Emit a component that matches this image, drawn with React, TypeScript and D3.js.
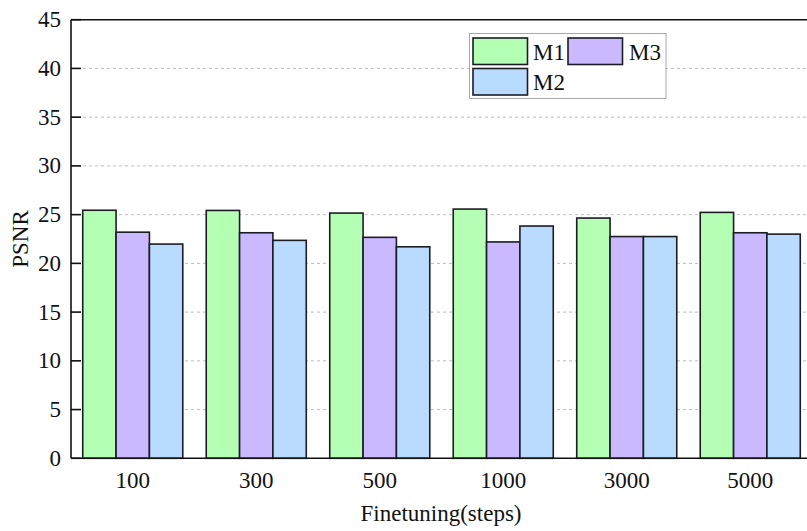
import React from "react";
import * as d3 from "d3";

const categories = ["100", "300", "500", "1000", "3000", "5000"];
const seriesNames = ["M1", "M3", "M2"];
const m1 = [25.45, 25.43, 25.16, 25.57, 24.65, 25.23];
const m3 = [23.2, 23.14, 22.67, 22.2, 22.75, 23.14];
const m2 = [21.98, 22.36, 21.7, 23.83, 22.75, 23.0];
const colors = ["#b4ffb4", "#cbb9ff", "#b8dbff"];
const yTicks = [0, 5, 10, 15, 20, 25, 30, 35, 40, 45];

const W = 807;
const H = 531;
const left = 71;
const top = 19.7;
const bottom = 458.3;
const right = 812;

export default function App() {
  const series = [m1, m3, m2];
  const x = d3
    .scaleBand<string>()
    .domain(categories)
    .range([left, right])
    .paddingInner(0.19)
    .paddingOuter(0.095);
  const inner = d3
    .scaleBand<string>()
    .domain(seriesNames)
    .range([0, x.bandwidth()]);
  const y = d3.scaleLinear().domain([0, 45]).range([bottom, top]);
  const font = "'Liberation Serif', 'Times New Roman', serif";
  const fs = 23;

  const legendItems = [
    { name: "M1", color: colors[0], sx: 473, sy: 38, tx: 533 },
    { name: "M3", color: colors[1], sx: 568, sy: 38, tx: 629 },
    { name: "M2", color: colors[2], sx: 473, sy: 68.5, tx: 533 },
  ];

  return (
    <svg
      width={W}
      height={H}
      style={{ position: "absolute", left: 0, top: 0, background: "#fff" }}
      fontFamily={font}
    >
      {/* grid */}
      {yTicks
        .filter((t) => t > 0 && t < 45)
        .map((t) => (
          <line
            key={"g" + t}
            x1={left}
            x2={W}
            y1={y(t)}
            y2={y(t)}
            stroke="#bdbdbd"
            strokeWidth={1}
            strokeDasharray="3,3"
          />
        ))}
      {/* bars */}
      {categories.map((c, i) => (
        <g key={c} transform={`translate(${x(c)},0)`}>
          {series.map((s, j) => (
            <rect
              key={j}
              x={inner(seriesNames[j])}
              y={y(s[i])}
              width={inner.bandwidth()}
              height={y(0) - y(s[i])}
              fill={colors[j]}
              stroke="#1c1c24"
              strokeWidth={1.6}
            />
          ))}
        </g>
      ))}
      {/* axes */}
      <line x1={left} x2={W} y1={top} y2={top} stroke="#111" strokeWidth={1.6} />
      <line x1={left} x2={W} y1={bottom} y2={bottom} stroke="#111" strokeWidth={1.6} />
      <line x1={left} x2={left} y1={top} y2={bottom} stroke="#111" strokeWidth={1.6} />
      {yTicks.map((t) => (
        <g key={"t" + t}>
          <line x1={left} x2={left + 10} y1={y(t)} y2={y(t)} stroke="#111" strokeWidth={1.6} />
          <text
            x={left - 10}
            y={y(t)}
            dy="0.33em"
            textAnchor="end"
            fontSize={fs}
            fill="#111"
          >
            {t}
          </text>
        </g>
      ))}
      {categories.map((c) => (
        <text
          key={"x" + c}
          x={(x(c) as number) + x.bandwidth() / 2}
          y={488}
          textAnchor="middle"
          fontSize={fs}
          fill="#111"
        >
          {c}
        </text>
      ))}
      <text x={441} y={521} textAnchor="middle" fontSize={fs} fill="#111">
        Finetuning(steps)
      </text>
      <text
        transform={`translate(28,${(top + bottom) / 2}) rotate(-90)`}
        textAnchor="middle"
        fontSize={fs}
        fill="#111"
      >
        PSNR
      </text>
      {/* legend */}
      <rect x={469.5} y={33.5} width={196.5} height={65} fill="#fff" stroke="#a8a8a8" strokeWidth={1} />
      {legendItems.map((l) => (
        <g key={l.name}>
          <rect x={l.sx} y={l.sy} width={54.5} height={26.5} fill={l.color} stroke="#1c1c24" strokeWidth={1.6} />
          <text x={l.tx} y={l.sy + 13.5} dy="0.35em" fontSize={fs} fill="#111">
            {l.name}
          </text>
        </g>
      ))}
    </svg>
  );
}
